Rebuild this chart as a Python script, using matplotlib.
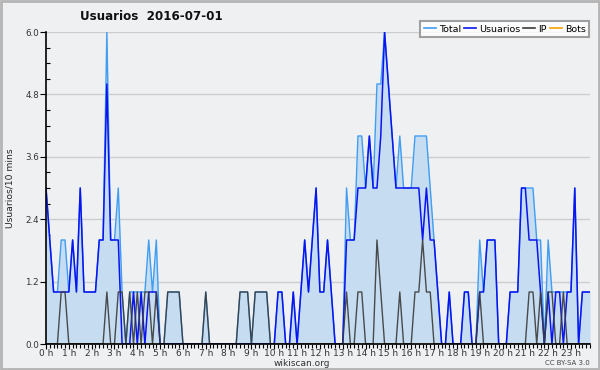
import numpy as np
import matplotlib
matplotlib.use('Agg')
import matplotlib.pyplot as plt
from matplotlib.lines import Line2D
from matplotlib.patches import Rectangle

# 10-minute slots over the day (144 slots)
usuarios = [3, 2, 1, 1, 1, 1, 1, 2, 1, 3, 1, 1, 1, 1, 2, 2, 5, 2, 2, 2, 0, 0,
            0, 1, 0, 1, 0, 1, 1, 1, 0,
            0, 0, 0, 0, 0, 0, 0, 0, 0, 0, 0, 0, 0, 0, 0, 0, 0, 0, 0, 0,
            0, 0, 0, 0, 0, 0, 0, 0, 0,
            0, 1, 1, 0, 0, 1, 0, 1, 2, 1, 2, 3, 1, 1, 2, 1, 0, 0, 0,
            2, 2, 2, 3, 3, 3, 4, 3, 3, 4, 6, 5, 4, 3, 3, 3, 3, 3, 3, 3,
            2, 3, 2, 2, 1, 0,
            0, 1, 0, 0, 0, 1, 1, 0, 0, 1, 1, 2, 2, 2, 0, 0, 0, 1, 1, 1,
            3, 3, 2, 2, 2, 1, 0, 1, 0, 1, 1, 0, 1, 1, 3, 0, 1, 1, 1]
ip = [0, 0, 0, 0, 1, 1, 0, 0, 0, 0, 0, 0, 0, 0, 0, 0, 1, 0, 0, 1, 1, 0,
      1, 0, 1, 0, 1, 1, 0, 1, 0,
      0, 1, 1, 1, 1, 0, 0, 0, 0, 0, 0, 1, 0, 0, 0, 0, 0, 0, 0, 0,
      1, 1, 1, 0, 1, 1, 1, 1, 0,
      0, 0, 0, 0, 0, 0, 0, 0, 0, 0, 0, 0, 0, 0, 0, 0, 0, 0, 0,
      1, 0, 0, 1, 1, 0, 0, 0, 2, 1, 0, 0, 0, 0, 1, 0, 0, 0, 1, 1,
      2, 1, 1, 0, 0, 0,
      0, 0, 0, 0, 0, 0, 0, 0, 0, 1, 0, 0, 0, 0, 0, 0, 0, 0, 0, 0,
      0, 0, 1, 1, 0, 1, 0, 1, 1, 0, 0, 1, 0, 0, 0, 0, 0, 0, 0]
total = [3, 2, 1, 1, 2, 2, 1, 2, 1, 3, 1, 1, 1, 1, 2, 2, 6, 2, 2, 3, 1, 0,
         1, 1, 1, 1, 1, 2, 1, 2, 0,
         0, 1, 1, 1, 1, 0, 0, 0, 0, 0, 0, 1, 0, 0, 0, 0, 0, 0, 0, 0,
         1, 1, 1, 0, 1, 1, 1, 1, 0,
         0, 1, 1, 0, 0, 1, 0, 1, 2, 1, 2, 3, 1, 1, 2, 1, 0, 0, 0,
         3, 2, 2, 4, 4, 3, 4, 3, 5, 5, 6, 5, 4, 3, 4, 3, 3, 3, 4, 4,
         4, 4, 3, 2, 1, 0,
         0, 1, 0, 0, 0, 1, 1, 0, 0, 2, 1, 2, 2, 2, 0, 0, 0, 1, 1, 1,
         3, 3, 3, 3, 2, 2, 0, 2, 1, 1, 1, 1, 1, 1, 3, 0, 1, 1, 1]
bots = [0] * 144

hour_labels = [f'{h} h' for h in range(24)]
y_ticks = [0.0, 1.2, 2.4, 3.6, 4.8, 6.0]

bg = '#eff0f2'
c_total = '#3f9df2'
c_fill = '#c6dcf0'
c_user = '#0a14f0'
c_ip = '#3a3a3a'
c_bots = '#f5a000'

fig = plt.figure(figsize=(6, 3.7), dpi=100)
fig.patch.set_facecolor(bg)
fig.patches.append(Rectangle((0.002, 0.003), 0.996, 0.994, transform=fig.transFigure,
                             fill=False, edgecolor='#b4b4b4', linewidth=2))

ax = fig.add_axes([46 / 600, 26 / 370, 544 / 600, 312 / 370])
ax.set_facecolor(bg)

x = np.arange(len(total))
ax.fill_between(x, total, 0, color=c_fill, linewidth=0, zorder=1)
ax.plot(x, bots, color=c_bots, linewidth=1, zorder=1.5)
ax.plot(x, total, color=c_total, linewidth=1, zorder=2)
ax.plot(x, usuarios, color=c_user, linewidth=1.1, zorder=3)
ax.plot(x, ip, color=c_ip, linewidth=1, alpha=0.9, zorder=4)

ax.set_xlim(0, 143)
ax.set_ylim(0, 6)

ax.set_yticks(y_ticks)
ax.set_yticklabels([f'{v:.1f}' for v in y_ticks], fontsize=6.3, color='#333333')
ax.set_yticks(np.arange(0, 6.01, 0.3), minor=True)
ax.tick_params(axis='y', which='major', direction='out', length=4, width=0.8, pad=1)
ax.tick_params(axis='y', which='minor', direction='in', length=3, width=0.8)
ax.grid(axis='y', color='#cdcdcd', linewidth=1, zorder=0)
ax.set_axisbelow(True)

ax.set_xticks(np.arange(0, 144, 6))
ax.set_xticklabels(hour_labels, fontsize=6.5, color='#333333')
ax.set_xticks(np.arange(0, 144, 1), minor=True)
ax.tick_params(axis='x', which='major', direction='out', length=3.5, width=0.8, pad=0)
ax.tick_params(axis='x', which='minor', direction='out', length=3, width=0.8)

for side in ['top', 'right']:
    ax.spines[side].set_visible(False)
for side in ['left', 'bottom']:
    ax.spines[side].set_linewidth(1.2)
    ax.spines[side].set_zorder(6)

ax.set_ylabel('Usuarios/10 mins', fontsize=6.6, color='#222222', labelpad=8)

fig.text(151 / 600, 1 - 17 / 370, 'Usuarios  2016-07-01', ha='center', va='center',
         fontsize=8.6, fontweight='bold', color='#111111')

handles = [Line2D([], [], color=c_total, lw=1.2),
           Line2D([], [], color=c_user, lw=1.2),
           Line2D([], [], color=c_ip, lw=1.2),
           Line2D([], [], color=c_bots, lw=1.2)]
leg = fig.legend(handles, ['Total', 'Usuarios', 'IP', 'Bots'], loc='upper right',
                 bbox_to_anchor=(594 / 600, 1 - 16 / 370), ncol=4, fontsize=6.8,
                 frameon=True, fancybox=False, handlelength=1.3, handletextpad=0.3,
                 columnspacing=0.3, borderpad=0.4)
leg.get_frame().set_edgecolor('#8a8a8a')
leg.get_frame().set_linewidth(1.5)
leg.get_frame().set_facecolor('white')
leg.set_zorder(10)

fig.text(302 / 600, 1 - 363 / 370, 'wikiscan.org', ha='center', va='center',
         fontsize=6.5, color='#333333')
fig.text(590 / 600, 1 - 363 / 370, 'CC BY-SA 3.0', ha='right', va='center',
         fontsize=5, color='#444444')

fig.savefig('out.png', dpi=100, facecolor=bg)
